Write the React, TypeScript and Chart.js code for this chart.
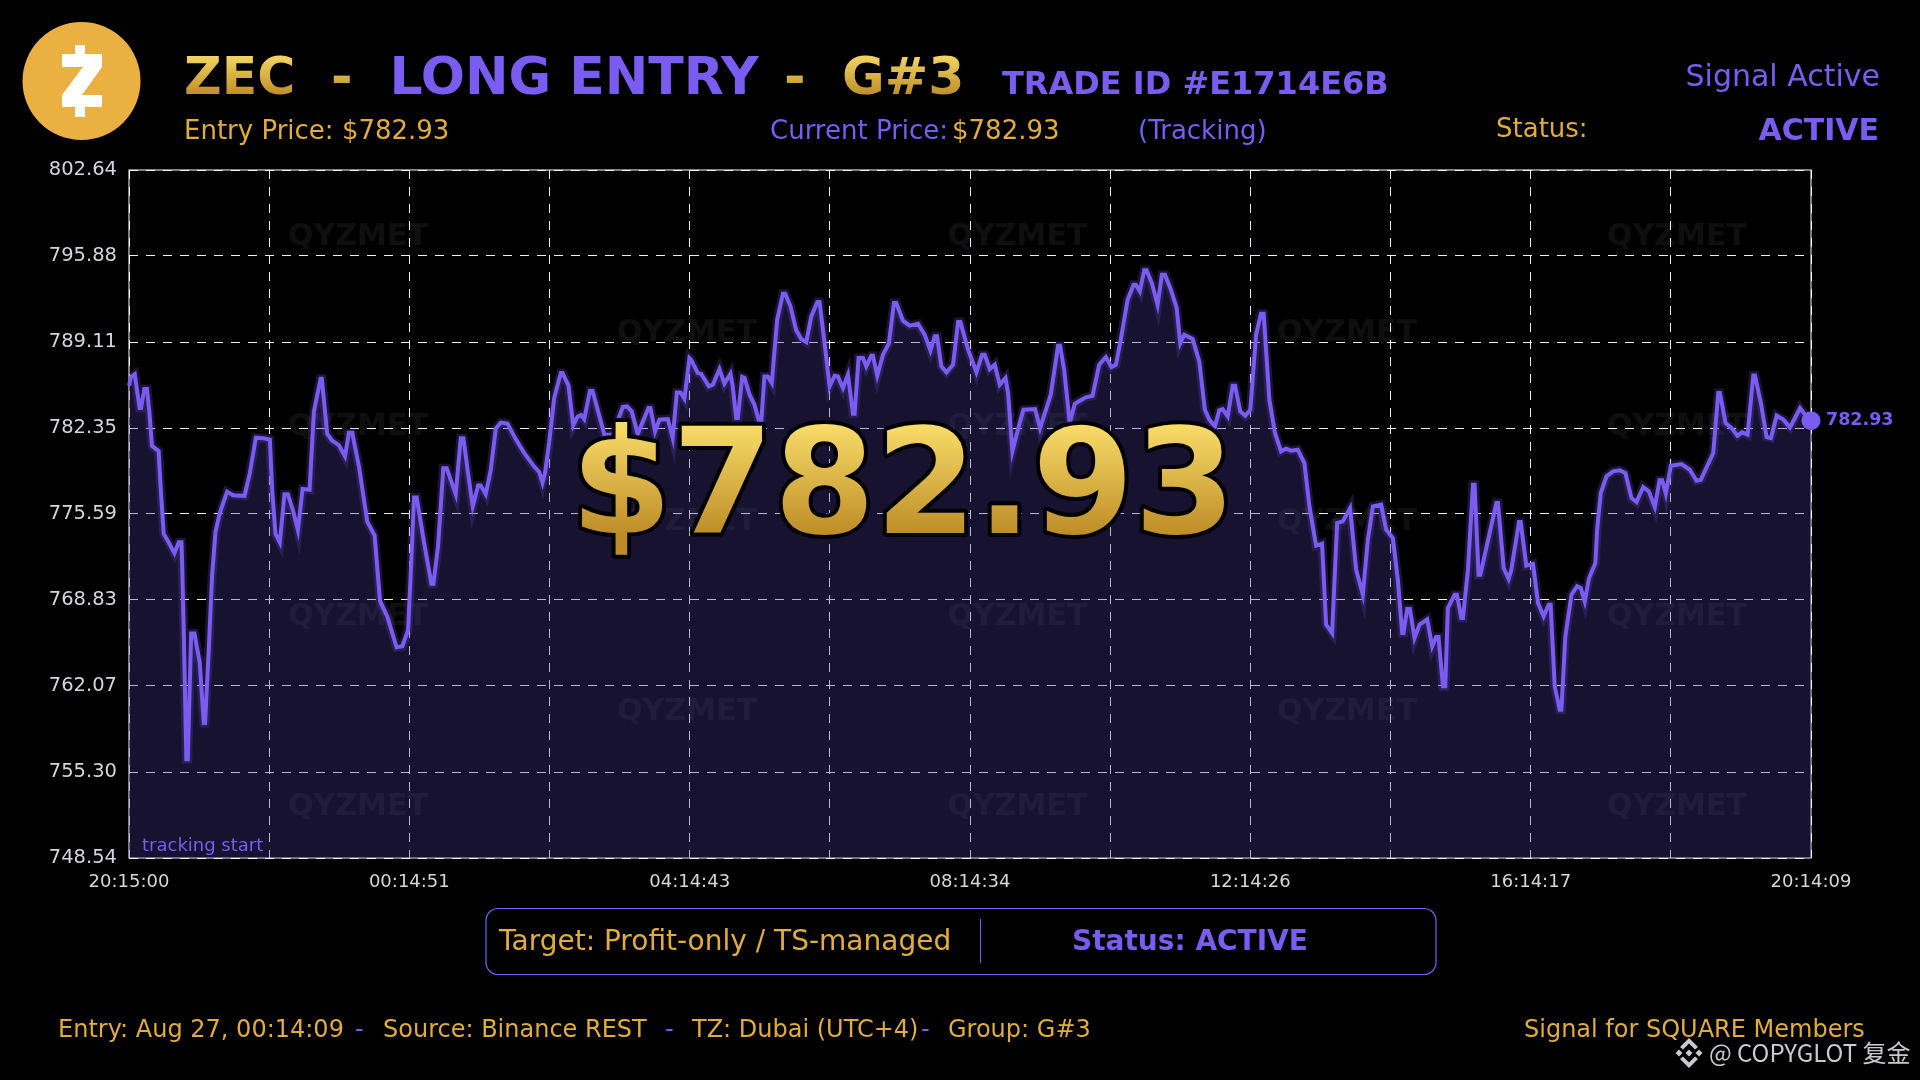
import React, { useEffect, useRef } from "react";
import { Chart, registerables } from "chart.js";

Chart.register(...registerables);

const minutes = [
  0,1.7,4.9,9.1,10.3,13.1,15.4,17.4,19.7,25.4,
  26.9,29.7,34,38.9,42.6,44.9,45.4,46.9,49.1,50.3,
  53.2,56,60.6,64,65.1,68.3,71.1,74,77.7,84,
  89.1,98.9,103.4,108.6,115.4,120.6,122.6,125.4,129.1,133.1,
  136,140.6,144.6,148.6,154.6,158.3,164,165.1,169.7,174,
  179.7,184.9,188.3,191.1,196.9,204,210.3,214.9,221.1,229.1,
  234,238.9,241.1,244,246.3,252.6,258.9,260.6,264.6,269.1,
  272,279.7,284,286.3,290.3,294.3,298.9,301.1,305.4,309.7,
  314,318.3,324,331.1,338.3,346.9,351.1,354,356.1,359.7,
  364,369.7,371.1,376.3,380.3,384,386.9,389.7,394.6,396.9,
  407,414,422.7,426.4,430.4,435.5,444.7,446.4,450.4,454.1,
  461.3,465.5,469,472.1,475.5,479.8,481.2,487,489.8,496.4,
  499.8,505.5,509.8,514.9,516.9,519.8,521.2,525,527,531.3,
  535.5,539.8,541.2,544,546.9,550.3,554.9,559.8,561.8,566.3,
  571.1,575.5,579.8,584.1,589.3,591.2,595.5,599.8,604.1,606.9,
  611.2,615.5,619.8,621.2,624.6,628.4,631.2,635.5,636.9,640.6,
  645.5,650.6,654.9,656.9,662.6,668.3,675.5,681.2,686.1,689.8,
  691.8,695.5,699.8,705.5,709.8,711.8,718.4,725.5,730.4,732.6,
  736.9,741.2,745.5,750.4,752.6,756.3,761.4,765.7,775.7,780,
  789.1,795.4,797.1,800.6,805.4,809.7,819.1,824.9,830.6,836.3,
  841.1,844.9,849.1,854.9,860,862,865.4,869.1,871.1,875.7,
  880.6,884.3,886.9,892,896.9,900,903.4,910.6,916.3,921.1,
  924.9,929.7,933.4,936.3,940.6,944.9,946.9,951.4,955.7,960,
  964.9,969.1,971.4,976.3,981.1,986.3,990.6,994.9,1000.6,1006.3,
  1010.6,1016.3,1021.4,1024.9,1030,1034.3,1039.1,1045.4,1050.6,1056.3,
  1060.6,1064.9,1072,1076.3,1082,1086.3,1090,1091.1,1094.3,1096.6,
  1100.6,1104.9,1111.4,1115.7,1119.1,1121.1,1124.9,1126.9,1129.1,1134.9,
  1136.9,1140.6,1142,1146.3,1150.6,1152,1155.4,1156.9,1170.6,1172,
  1176.9,1181.1,1183.4,1190,1191.4,1196.3,1202,1206.3,1211.1,1215.4,
  1217.1,1220.6,1224.9,1226.3,1229.7,1234.9,1239.7,1242.9,1246.3,1250,
  1255.4,1256.9,1260,1264.9,1270.6,1276.3,1281.1,1286.3,1290.6,1296.3,
  1301.1,1306.3,1310.3,1312.6,1315.7,1320,1329.1,1336.3,1342,1345.7,
  1356.3,1360.6,1362,1366.9,1372,1377.1,1381.1,1385.7,1390.6,1392,
  1397.1,1402,1405.7,1410.6,1416.3,1422,1426.3,1430.6,1434.9,1440,
];

const prices = [
  785.68,786.36,786.57,783.92,783.92,785.41,785.41,783.65,780.94,780.54,
  777.96,774.04,773.36,772.5,773.36,773.36,772.01,766.32,756.31,756.31,
  766.19,766.19,763.89,759.15,759.15,764.97,770.66,774.17,775.66,777.35,
  777.07,777.02,778.78,781.59,781.54,781.43,777.42,774.04,773.36,777.15,
  777.15,775.8,774.31,777.56,777.5,783.65,786.22,786.22,781.89,781.35,
  781,780.13,781.97,781.97,779.32,774.99,773.9,768.76,767.54,765.11,
  765.19,766.46,770.66,776.88,776.88,773.36,770.11,770.11,773.09,779.18,
  779.18,777.15,781.54,781.54,778.78,776.2,777.83,777.83,777.15,779.05,
  782.3,782.78,782.7,781.48,780.4,779.32,778.91,778.05,778.78,781.21,
  784.73,786.68,786.68,785.68,782.57,783.24,783.38,783.05,785.27,785.27,
  781.83,781.83,784,784.05,783.66,781.88,783.92,783.92,782.09,783.01,
  783.06,781.56,785.15,785.15,784.66,787.85,787.72,786.67,786.62,785.63,
  785.76,786.99,785.84,786.62,785.63,783.14,783.14,786.36,786.28,784.97,
  784.18,782.74,782.74,786.41,786.41,785.89,790.87,792.91,792.91,791.92,
  790.08,789.35,789.11,791.13,792.26,792.26,789.03,785.63,786.46,786.41,
  785.5,786.54,783.48,783.48,787.85,787.85,787.2,788.04,788.04,786.46,
  788.12,789.03,792.18,792.18,790.79,790.4,790.55,789.69,788.43,789.56,
  789.56,787.2,786.73,787.33,790.68,790.68,788.51,786.75,788.12,788.12,
  786.99,787.33,785.76,786.28,785.1,780.52,782.35,783.79,783.84,782.35,
  784.97,788.82,788.82,786.94,782.74,784.26,784.76,784.89,787.33,787.93,
  787.15,787.33,789.3,792.44,793.62,793.62,793.1,794.75,794.75,793.75,
  792.05,794.41,794.41,793.23,791.79,789.03,789.69,789.35,787.59,783.79,
  783.01,782.48,783.74,783.84,783.27,785.68,785.68,783.66,783.32,783.79,
  789.69,791.34,791.34,784.58,781.96,780.52,780.73,780.57,780.65,779.6,
  776.19,773.1,773.26,766.89,766.23,774.88,775.01,776.06,771.21,769.25,
  773.57,776.19,776.32,774.36,773.7,770.42,766.23,766.23,768.12,768.12,
  765.84,766.89,767.3,765.18,765.92,765.92,762.04,762.04,768.2,769.25,
  769.25,767.41,767.41,771.21,777.89,777.89,770.82,770.82,776.45,776.45,
  771.34,770.48,771.21,774.96,774.96,771.53,771.66,768.59,767.54,768.46,
  768.46,762.04,760.2,760.2,765.97,769.25,769.9,769.77,768.72,770.56,
  771.73,774.36,777.24,778.55,778.94,779.02,778.81,776.85,776.53,777.71,
  777.37,776.14,778.24,778.24,777.19,779.39,779.52,779.07,778.21,778.29,
  780.38,785.1,785.1,782.74,782.35,781.75,782.01,781.83,786.49,786.49,
  784.32,781.64,781.56,783.32,783.01,782.4,783.14,783.92,783.4,782.93,
];

const yTicks = [748.54, 755.3, 762.07, 768.83, 775.59, 782.35, 789.11, 795.88, 802.64];
const xTicks = [0, 120, 240, 360, 480, 600, 720, 840, 960, 1080, 1200, 1320, 1440];
const xLabels = ["20:15:00", "", "00:14:51", "", "04:14:43", "", "08:14:34", "", "12:14:26", "", "16:14:17", "", "20:14:09"];

const PURPLE = "#7b5cf0";
const GOLD = "#e0ac3c";
const FF = '"DejaVu Sans"';
const wmRows = [
  { y: 237.5, xs: [358, 1017.5, 1677] }, { y: 333, xs: [687, 1347] },
  { y: 427.5, xs: [358, 1017.5, 1677] }, { y: 522.5, xs: [687, 1347] },
  { y: 617.5, xs: [358, 1017.5, 1677] }, { y: 712.5, xs: [687, 1347] },
  { y: 807.5, xs: [358, 1017.5, 1677] },
];

function put(ctx: CanvasRenderingContext2D, s: string, x: number, y: number, font: string, color: any, align: CanvasTextAlign = "left") {
  ctx.font = `${font} ${FF}`;
  ctx.fillStyle = color;
  ctx.textAlign = align;
  ctx.textBaseline = "alphabetic";
  ctx.fillText(s, x, y);
}

function goldGrad(ctx: CanvasRenderingContext2D, y0: number, y1: number) {
  const g = ctx.createLinearGradient(0, y0, 0, y1);
  g.addColorStop(0, "#f8dc68");
  g.addColorStop(1, "#bd8c26");
  return g;
}

const background = {
  id: "background",
  beforeDraw(chart: any) {
    const ctx = chart.ctx;
    ctx.save();
    ctx.fillStyle = "#000";
    ctx.fillRect(0, 0, chart.width, chart.height);
    ctx.restore();
  },
  beforeDatasetsDraw(chart: any) {
    const ctx = chart.ctx;
    const a = chart.chartArea;
    ctx.save();
    ctx.strokeStyle = "#fff";
    ctx.lineWidth = 1;
    ctx.strokeRect(a.left, a.top, a.right - a.left, a.bottom - a.top);
    for (const r of wmRows) for (const x of r.xs) {
      ctx.font = `bold 30px ${FF}`;
      ctx.textAlign = "center";
      ctx.textBaseline = "middle";
      ctx.fillStyle = "rgba(255,255,255,0.06)";
      ctx.fillText("QYZMET", x, r.y);
    }
    ctx.restore();
  },
};

const overlay = {
  id: "overlay",
  afterDraw(chart: any) {
    const ctx: CanvasRenderingContext2D = chart.ctx;
    ctx.save();
    // coin
    ctx.fillStyle = "#ebb042";
    ctx.beginPath();
    ctx.arc(81.5, 81, 59, 0, Math.PI * 2);
    ctx.fill();
    ctx.fillStyle = "#fff";
    ctx.beginPath();
    const z = [[75,45],[85,45],[85,54],[102,54],[102,67],[82,95],[102,95],[102,107],[85,107],[85,117],[75,117],[75,107],[62,107],[62,95],[83,67],[62,67],[62,54],[75,54]];
    z.forEach(([x, y], i) => (i ? ctx.lineTo(x, y) : ctx.moveTo(x, y)));
    ctx.closePath();
    ctx.fill();

    // header
    const tg = goldGrad(ctx, 52, 96);
    const T = "bold 52px";
    put(ctx, "ZEC", 184, 94, T, tg);
    put(ctx, "-", 331, 94, T, tg);
    put(ctx, "LONG ENTRY", 389.5, 94, T, PURPLE);
    put(ctx, "-", 784, 94, T, tg);
    put(ctx, "G#3", 842, 94, T, tg);
    put(ctx, "TRADE ID #E1714E6B", 1002, 94, "bold 32px", PURPLE);
    put(ctx, "Signal Active", 1880, 86, "30px", PURPLE, "right");
    put(ctx, "Entry Price: $782.93", 184, 139, "26px", GOLD);
    put(ctx, "Current Price:", 770, 139, "26px", PURPLE);
    put(ctx, "$782.93", 952, 139, "26px", GOLD);
    put(ctx, "(Tracking)", 1138, 139, "26px", PURPLE);
    put(ctx, "Status:", 1496, 137, "26px", GOLD);
    put(ctx, "ACTIVE", 1879, 140, "bold 30px", PURPLE, "right");

    // big price
    ctx.font = `bold 146px ${FF}`;
    ctx.textAlign = "center";
    ctx.textBaseline = "alphabetic";
    ctx.lineJoin = "round";
    ctx.lineWidth = 8;
    ctx.strokeStyle = "#000";
    ctx.strokeText("$782.93", 903, 533);
    ctx.fillStyle = goldGrad(ctx, 425, 535);
    ctx.fillText("$782.93", 903, 533);

    // annotations
    put(ctx, "tracking start", 142, 851, "18px", PURPLE);
    put(ctx, "782.93", 1826, 425, "bold 17.5px", PURPLE);

    // status box
    ctx.strokeStyle = PURPLE;
    ctx.lineWidth = 1.2;
    ctx.beginPath();
    ctx.roundRect(486, 908.5, 950, 66, 12);
    ctx.stroke();
    ctx.lineWidth = 1;
    ctx.beginPath();
    ctx.moveTo(980.5, 919);
    ctx.lineTo(980.5, 963);
    ctx.stroke();
    put(ctx, "Target: Profit-only / TS-managed", 499, 950, "28px", GOLD);
    put(ctx, "Status: ACTIVE", 1072, 950, "bold 28px", PURPLE);

    // footer
    const F = "24px";
    put(ctx, "Entry: Aug 27, 00:14:09", 58, 1037, F, GOLD);
    put(ctx, "-", 355, 1037, F, PURPLE);
    put(ctx, "Source: Binance REST", 383, 1037, F, GOLD);
    put(ctx, "-", 665, 1037, F, PURPLE);
    put(ctx, "TZ: Dubai (UTC+4)", 692, 1037, F, GOLD);
    put(ctx, "-", 921, 1037, F, PURPLE);
    put(ctx, "Group: G#3", 948, 1037, F, GOLD);
    put(ctx, "Signal for SQUARE Members", 1524, 1037, F, GOLD);

    // watermark
    ctx.fillStyle = "#c9c9d0";
    const diamond = (cx: number, cy: number, r: number) => {
      ctx.beginPath();
      ctx.moveTo(cx, cy - r); ctx.lineTo(cx + r, cy); ctx.lineTo(cx, cy + r); ctx.lineTo(cx - r, cy);
      ctx.closePath();
      ctx.fill();
    };
    diamond(1689, 1053, 3.5);
    diamond(1679, 1053, 3.5);
    diamond(1699, 1053, 3.5);
    for (const s of [-1, 1]) {
      ctx.beginPath();
      ctx.moveTo(1689, 1053 + s * 15); ctx.lineTo(1698, 1053 + s * 6); ctx.lineTo(1695, 1053 + s * 3.5);
      ctx.lineTo(1689, 1053 + s * 9.5); ctx.lineTo(1683, 1053 + s * 3.5); ctx.lineTo(1680, 1053 + s * 6);
      ctx.closePath();
      ctx.fill();
    }
    ctx.font = `24px "Noto Sans CJK SC"`;
    ctx.textAlign = "left";
    ctx.fillText("@ COPYGLOT 复金", 1709, 1062);
    ctx.restore();
  },
};

export default function App() {
  const ref = useRef<HTMLCanvasElement | null>(null);

  useEffect(() => {
    document.body.style.margin = "0";
    document.body.style.background = "#000";
    const points = minutes.map((m, i) => ({ x: m, y: prices[i] }));
    const chart = new Chart(ref.current as HTMLCanvasElement, {
      type: "line",
      data: {
        datasets: [
          {
            label: "ZEC",
            data: points,
            borderColor: PURPLE,
            borderWidth: 4,
            backgroundColor: "rgba(69,56,150,0.32)",
            fill: "start",
            tension: 0,
            clip: false as any,
            pointRadius: points.map((_, i) => (i === points.length - 1 ? 9.5 : 0)),
            pointBackgroundColor: PURPLE,
            pointBorderWidth: 0,
            pointHoverRadius: 0,
            order: 1,
          },
          {
            label: "glow",
            data: points,
            borderColor: "rgba(123,92,240,0.22)",
            borderWidth: 9,
            fill: false,
            tension: 0,
            pointRadius: 0,
            order: 2,
          },
        ],
      },
      options: {
        responsive: false,
        animation: false,
        devicePixelRatio: 1,
        events: [],
        layout: { padding: { top: 170, right: 109, left: 0, bottom: 0 } },
        plugins: { legend: { display: false }, title: { display: false }, tooltip: { enabled: false } },
        scales: {
          x: {
            type: "linear",
            min: 0,
            max: 1440,
            afterFit: (s: any) => { s.height = 222; },
            afterBuildTicks: (s: any) => { s.ticks = xTicks.map((v) => ({ value: v })); },
            grid: { color: "#f0eef8", lineWidth: 1, drawTicks: false },
            border: { display: false, dash: [9, 8] },
            ticks: {
              autoSkip: false,
              maxRotation: 0,
              padding: 14,
              color: "#d4d6dc",
              font: { family: "DejaVu Sans", size: 18 },
              callback: (_: any, i: number) => xLabels[i],
            },
          },
          y: {
            min: 748.54,
            max: 802.64,
            afterFit: (s: any) => { s.width = 129; },
            afterBuildTicks: (s: any) => { s.ticks = yTicks.map((v) => ({ value: v })); },
            grid: { color: "#f0eef8", lineWidth: 1, drawTicks: false },
            border: { display: false, dash: [9, 8] },
            ticks: {
              padding: 12,
              color: "#d4d6dc",
              font: { family: "DejaVu Sans", size: 19.5 },
              callback: (v: any) => Number(v).toFixed(2),
            },
          },
        },
      },
      plugins: [background, overlay],
    } as any);
    return () => chart.destroy();
  }, []);

  return (
    <div style={{ width: 1920, height: 1080, overflow: "hidden" }}>
      <canvas ref={ref} width={1920} height={1080} style={{ display: "block" }} />
    </div>
  );
}
